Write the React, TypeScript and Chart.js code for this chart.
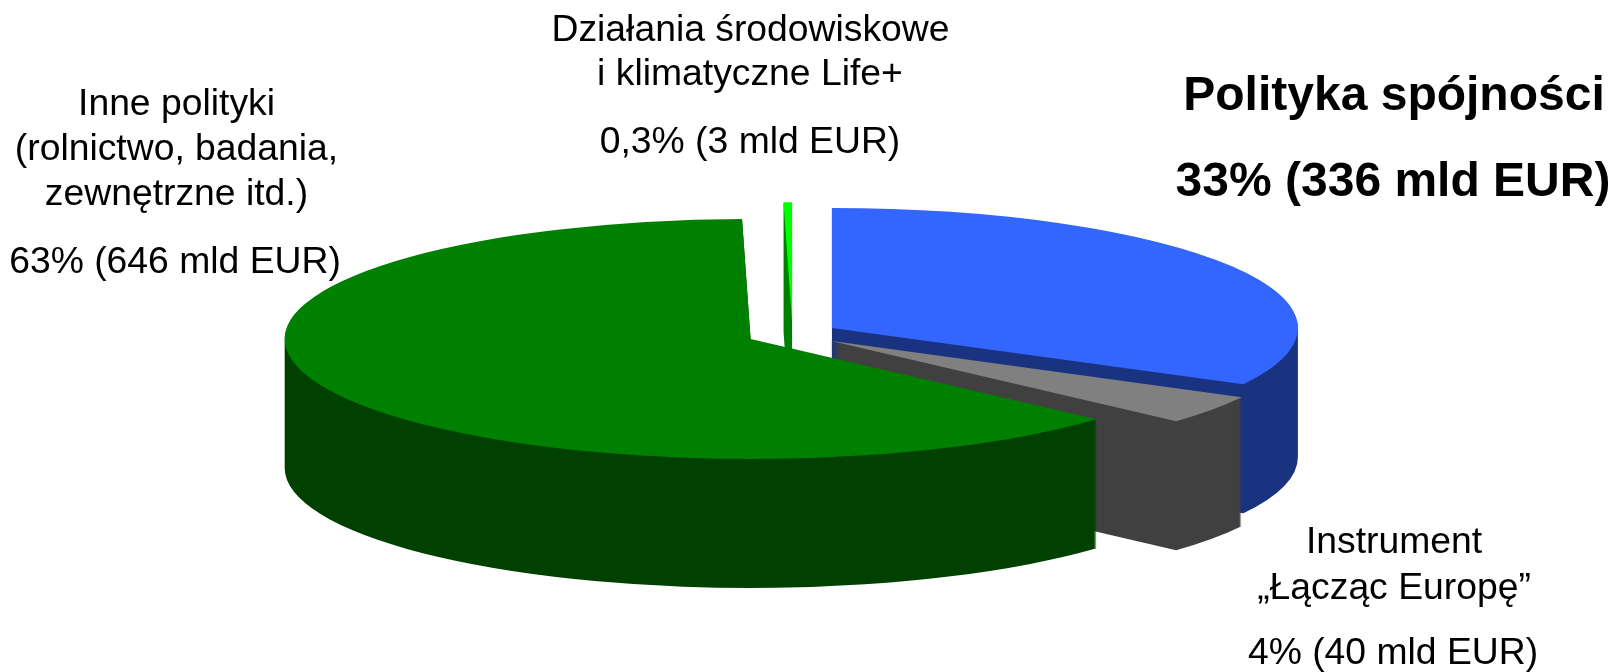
import React, { useEffect, useRef } from "react";
import { Chart, registerables } from "chart.js";

Chart.register(...registerables);

const categories = [
  "Polityka spójności",
  "Instrument „Łącząc Europę”",
  "Inne polityki",
  "Działania środowiskowe i klimatyczne Life+",
];
const valuesMldEur = [336, 40, 646, 3];
const topColors = ["rgb(51,102,255)", "rgb(128,128,128)", "rgb(0,128,0)", "rgb(0,255,0)"];
const sideColors = ["rgb(25,51,128)", "rgb(64,64,64)", "rgb(0,64,0)", "rgb(0,128,0)"];
// back-to-front painting order of the slices
const paintOrder = [3, 0, 1, 2];

const REGULAR = '37.3px "Liberation Sans", Arial, sans-serif';
const BOLD = 'bold 48px "Liberation Sans", Arial, sans-serif';

const labelLines: [string, number, number, string][] = [
  ["Inne polityki", 176.5, 105, REGULAR],
  ["(rolnictwo, badania,", 176.5, 149.5, REGULAR],
  ["zewnętrzne itd.)", 176.5, 194.5, REGULAR],
  ["63% (646 mld EUR)", 175, 263, REGULAR],
  ["Działania środowiskowe", 750.5, 30.5, REGULAR],
  ["i klimatyczne Life+", 750, 75, REGULAR],
  ["0,3% (3 mld EUR)", 750, 143, REGULAR],
  ["Polityka spójności", 1394, 97, BOLD],
  ["33% (336 mld EUR)", 1393, 183, BOLD],
  ["Instrument", 1394, 543, REGULAR],
  ["„Łącząc Europę”", 1394, 589, REGULAR],
  ["4% (40 mld EUR)", 1393, 653.5, REGULAR],
];

const SQUASH = 120 / 466;
const DEPTH = 129;
const EXPLODE = 46;

const pie3dPlugin = {
  id: "pie3d",
  beforeDatasetDraw(chart: any, args: any) {
    const { ctx } = chart;
    const arcs = args.meta.data;
    for (const i of paintOrder) {
      const arc = arcs[i];
      const mid = (arc.startAngle + arc.endAngle) / 2;
      const cx = arc.x + Math.cos(mid) * EXPLODE;
      const cy = arc.y + Math.sin(mid) * EXPLODE * SQUASH;

      // the wall: every depth layer of the slice, filled once as one path
      ctx.beginPath();
      for (let d = 1; d <= DEPTH; d++) {
        ctx.moveTo(cx, cy + d);
        ctx.ellipse(cx, cy + d, arc.outerRadius, arc.outerRadius * SQUASH, 0, arc.startAngle, arc.endAngle);
        ctx.closePath();
      }
      ctx.fillStyle = sideColors[i];
      ctx.fill("nonzero");

      // the top face: the library's own arc element
      ctx.save();
      ctx.translate(cx, cy);
      ctx.scale(1, SQUASH);
      ctx.translate(-arc.x, -arc.y);
      arc.draw(ctx);
      ctx.restore();
    }
    return false;
  },
  afterDraw(chart: any) {
    const { ctx } = chart;
    ctx.save();
    ctx.fillStyle = "#000";
    ctx.textAlign = "center";
    ctx.textBaseline = "middle";
    for (const [text, x, y, font] of labelLines) {
      ctx.font = font;
      ctx.fillText(text, x, y);
    }
    ctx.restore();
  },
};

export default function App() {
  const ref = useRef<HTMLCanvasElement>(null);
  useEffect(() => {
    const chart = new Chart(ref.current!, {
      type: "pie",
      data: {
        labels: categories,
        datasets: [
          {
            data: valuesMldEur,
            backgroundColor: topColors,
            borderWidth: 0,
            clip: false,
          } as any,
        ],
      },
      options: {
        responsive: false,
        animation: false,
        radius: 466,
        layout: { padding: { left: 0, top: 0, right: 28, bottom: 4 } },
        plugins: { legend: { display: false }, tooltip: { enabled: false } },
      } as any,
      plugins: [pie3dPlugin],
    });
    return () => chart.destroy();
  }, []);
  return (
    <canvas
      ref={ref}
      width={1613}
      height={672}
      style={{ position: "absolute", left: 0, top: 0, width: 1613, height: 672, background: "#fff" }}
    />
  );
}
